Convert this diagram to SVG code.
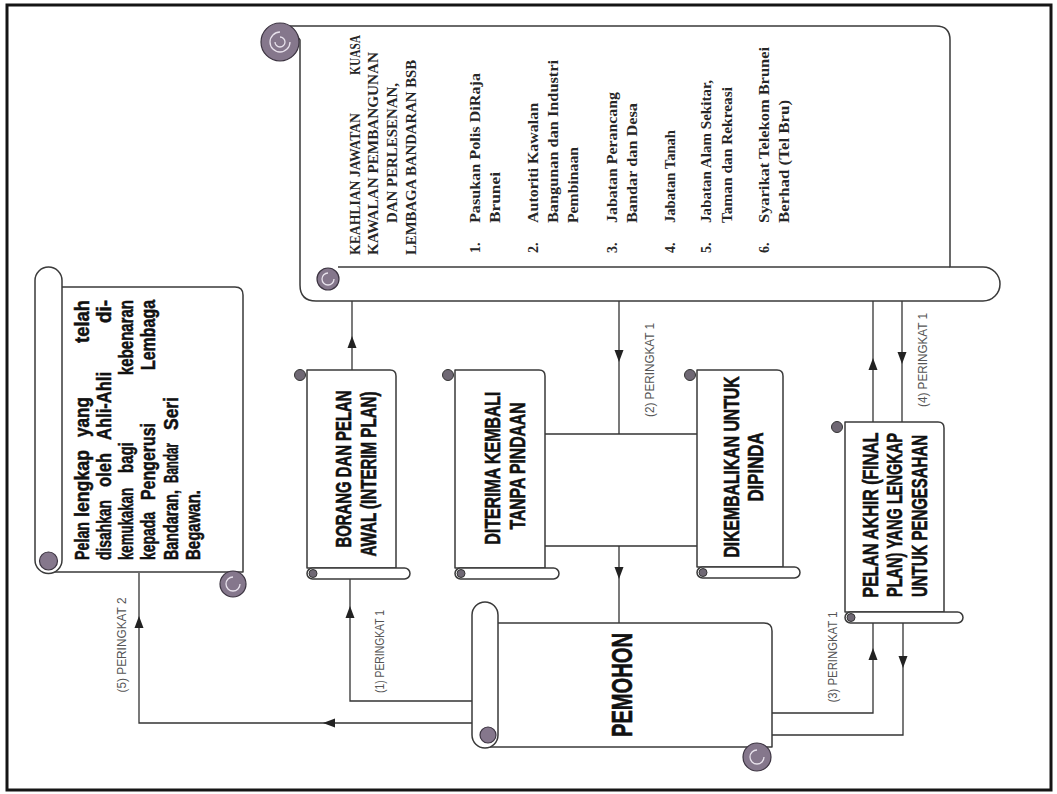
<svg xmlns="http://www.w3.org/2000/svg" width="1057" height="794" viewBox="0 0 1057 794">
<defs>
<style>
.frame{fill:none;stroke:#151515;stroke-width:3}
.sh{fill:#fff;stroke:#3a3a3a;stroke-width:1.5;stroke-linejoin:round}
.ol{fill:none;stroke:#3a3a3a;stroke-width:1.5}
.curl{fill:#85778c;stroke:#3d3542;stroke-width:1.2}
.sc{fill:#6f6874;stroke:#333;stroke-width:1}
.hl{fill:none;stroke:#e8e2ec;stroke-width:1.3}
.cn{fill:none;stroke:#333;stroke-width:1.3}
.ah{fill:#222}
.nt{font-family:"Liberation Sans Narrow","Liberation Sans",Arial,sans-serif;font-weight:bold;font-size:22px;fill:#111;stroke:#111;stroke-width:0.6}
.big{font-size:30px}
.pt{font-family:"Liberation Sans Narrow","Liberation Sans",Arial,sans-serif;font-weight:bold;font-size:20px;fill:#111;stroke:#111;stroke-width:0.5}
.sf{font-family:"Liberation Serif","Times New Roman",serif;font-weight:bold;font-size:14px;fill:#262626}
.lb{font-family:"Liberation Sans Narrow","Liberation Sans",Arial,sans-serif;font-size:13px;fill:#555}
</style>
<path id="ah" d="M0,0 L-12,-4.5 L-12,4.5 Z"/>
</defs>
<rect x="0" y="0" width="1057" height="794" fill="#fff"/>
<rect class="frame" x="7" y="5" width="1044" height="785"/>

<g id="connectors">
<path class="cn" d="M352,370 V301"/>
<use href="#ah" class="ah" transform="translate(352,336) rotate(-90)"/>
<path class="cn" d="M619,301 V434 M545,434 H697 M545,546 H697 M619,546 V623"/>
<use href="#ah" class="ah" transform="translate(619,362) rotate(90)"/>
<use href="#ah" class="ah" transform="translate(619,579) rotate(90)"/>
<path class="cn" d="M873,422 V301"/>
<use href="#ah" class="ah" transform="translate(873,358) rotate(-90)"/>
<path class="cn" d="M902,301 V422"/>
<use href="#ah" class="ah" transform="translate(902,364) rotate(90)"/>
<path class="cn" d="M772,713 H873 V623"/>
<use href="#ah" class="ah" transform="translate(873,648) rotate(-90)"/>
<path class="cn" d="M903,623 V735 H772"/>
<use href="#ah" class="ah" transform="translate(903,668) rotate(90)"/>
<path class="cn" d="M473,701 H350 V579"/>
<use href="#ah" class="ah" transform="translate(350,606) rotate(-90)"/>
<path class="cn" d="M473,723 H139 V573"/>
<use href="#ah" class="ah" transform="translate(139,616) rotate(-90)"/>
<use href="#ah" class="ah" transform="translate(323,723) rotate(180)"/>
<text class="lb" transform="translate(384,651.5) rotate(-90)" text-anchor="middle" textLength="83" lengthAdjust="spacingAndGlyphs">(1) PERINGKAT 1</text>
<text class="lb" transform="translate(654,370) rotate(-90)" text-anchor="middle" textLength="94" lengthAdjust="spacingAndGlyphs">(2) PERINGKAT 1</text>
<text class="lb" transform="translate(837,657) rotate(-90)" text-anchor="middle" textLength="91" lengthAdjust="spacingAndGlyphs">(3) PERINGKAT 1</text>
<text class="lb" transform="translate(927,360) rotate(-90)" text-anchor="middle" textLength="94" lengthAdjust="spacingAndGlyphs">(4) PERINGKAT 1</text>
<text class="lb" transform="translate(126,645) rotate(-90)" text-anchor="middle" textLength="95" lengthAdjust="spacingAndGlyphs">(5) PERINGKAT 2</text>
</g>

<g id="node-keahlian">
<path class="sh" d="M290,26 H936 Q950,26 950,40 V267 H983 A17,17 0 0 1 983,301 H316 Q300,301 300,285 V40 Z"/>
<path class="ol" d="M338,267 H950"/>
<circle class="curl" cx="328" cy="279" r="11"/>
<path class="hl" d="M328,273 a6,6 0 1 0 6,6"/>
<circle class="curl" cx="280" cy="42" r="19"/>
<path class="hl" d="M280,32 a10,10 0 1 0 10,10 M280,37 a5,5 0 1 1 -5,5"/>
<text class="sf" transform="translate(360,255) rotate(-90)" textLength="142" lengthAdjust="spacingAndGlyphs">KEAHLIAN JAWATAN</text>
<text class="sf" transform="translate(360,75) rotate(-90)" textLength="40" lengthAdjust="spacingAndGlyphs">KUASA</text>
<text class="sf" transform="translate(378,255) rotate(-90)" textLength="203" lengthAdjust="spacingAndGlyphs">KAWALAN PEMBANGUNAN</text>
<text class="sf" transform="translate(397,153) rotate(-90)" text-anchor="middle" textLength="140" lengthAdjust="spacingAndGlyphs">DAN PERLESENAN,</text>
<text class="sf" transform="translate(416,255) rotate(-90)" textLength="195" lengthAdjust="spacingAndGlyphs">LEMBAGA BANDARAN BSB</text>
<text class="sf" transform="translate(480,253) rotate(-90)">1.</text>
<text class="sf" transform="translate(480,223) rotate(-90)" textLength="150" lengthAdjust="spacingAndGlyphs">Pasukan Polis DiRaja</text>
<text class="sf" transform="translate(500,223) rotate(-90)" textLength="51" lengthAdjust="spacingAndGlyphs">Brunei</text>
<text class="sf" transform="translate(538,253) rotate(-90)">2.</text>
<text class="sf" transform="translate(538,223) rotate(-90)" textLength="120" lengthAdjust="spacingAndGlyphs">Autoriti Kawalan</text>
<text class="sf" transform="translate(558,223) rotate(-90)" textLength="163" lengthAdjust="spacingAndGlyphs">Bangunan dan Industri</text>
<text class="sf" transform="translate(578,223) rotate(-90)" textLength="76" lengthAdjust="spacingAndGlyphs">Pembinaan</text>
<text class="sf" transform="translate(617,253) rotate(-90)">3.</text>
<text class="sf" transform="translate(617,223) rotate(-90)" textLength="131" lengthAdjust="spacingAndGlyphs">Jabatan Perancang</text>
<text class="sf" transform="translate(637,223) rotate(-90)" textLength="120" lengthAdjust="spacingAndGlyphs">Bandar dan Desa</text>
<text class="sf" transform="translate(675,253) rotate(-90)">4.</text>
<text class="sf" transform="translate(675,223) rotate(-90)" textLength="93" lengthAdjust="spacingAndGlyphs">Jabatan Tanah</text>
<text class="sf" transform="translate(711,253) rotate(-90)">5.</text>
<text class="sf" transform="translate(711,223) rotate(-90)" textLength="143" lengthAdjust="spacingAndGlyphs">Jabatan Alam Sekitar,</text>
<text class="sf" transform="translate(732,223) rotate(-90)" textLength="136" lengthAdjust="spacingAndGlyphs">Taman dan Rekreasi</text>
<text class="sf" transform="translate(769,253) rotate(-90)">6.</text>
<text class="sf" transform="translate(769,223) rotate(-90)" textLength="176" lengthAdjust="spacingAndGlyphs">Syarikat Telekom Brunei</text>
<text class="sf" transform="translate(789,223) rotate(-90)" textLength="123" lengthAdjust="spacingAndGlyphs">Berhad (Tel Bru)</text>
</g>

<g id="node-pelan-lengkap">
<path class="sh" d="M55,287 H235 Q243,287 243,295 V572 H48 Z"/>
<path class="sh" d="M35,560 V280.5 A13.5,13.5 0 0 1 62,280.5 V560 A13.5,13.5 0 0 1 35,560 Z"/>
<circle class="curl" cx="48.5" cy="561" r="9"/>
<circle class="curl" cx="233" cy="584" r="13"/>
<path class="hl" d="M233,577 a7,7 0 1 0 7,7"/>
<g class="pt">
<text transform="translate(89,560) rotate(-90)" textLength="38" lengthAdjust="spacingAndGlyphs">Pelan</text>
<text transform="translate(89,517) rotate(-90)" textLength="67" lengthAdjust="spacingAndGlyphs">lengkap</text>
<text transform="translate(89,437) rotate(-90)" textLength="40" lengthAdjust="spacingAndGlyphs">yang</text>
<text transform="translate(89,343) rotate(-90)" textLength="43" lengthAdjust="spacingAndGlyphs">telah</text>
<text transform="translate(111,560) rotate(-90)" textLength="60" lengthAdjust="spacingAndGlyphs">disahkan</text>
<text transform="translate(111,487) rotate(-90)" textLength="34" lengthAdjust="spacingAndGlyphs">oleh</text>
<text transform="translate(111,440) rotate(-90)" textLength="68" lengthAdjust="spacingAndGlyphs">Ahli-Ahli</text>
<text transform="translate(111,323) rotate(-90)" textLength="23" lengthAdjust="spacingAndGlyphs">di-</text>
<text transform="translate(133,560) rotate(-90)" textLength="72" lengthAdjust="spacingAndGlyphs">kemukakan</text>
<text transform="translate(133,473) rotate(-90)" textLength="31" lengthAdjust="spacingAndGlyphs">bagi</text>
<text transform="translate(133,375) rotate(-90)" textLength="75" lengthAdjust="spacingAndGlyphs">kebenaran</text>
<text transform="translate(155,560) rotate(-90)" textLength="48" lengthAdjust="spacingAndGlyphs">kepada</text>
<text transform="translate(155,500) rotate(-90)" textLength="77" lengthAdjust="spacingAndGlyphs">Pengerusi</text>
<text transform="translate(155,370) rotate(-90)" textLength="70" lengthAdjust="spacingAndGlyphs">Lembaga</text>
<text transform="translate(178,560) rotate(-90)" textLength="70" lengthAdjust="spacingAndGlyphs">Bandaran,</text>
<text transform="translate(178,483) rotate(-90)" textLength="40" lengthAdjust="spacingAndGlyphs">Bandar</text>
<text transform="translate(178,430) rotate(-90)" textLength="33" lengthAdjust="spacingAndGlyphs">Seri</text>
<text transform="translate(200,560) rotate(-90)" textLength="70" lengthAdjust="spacingAndGlyphs">Begawan.</text>
</g>
</g>

<g id="node-borang">
<path class="sh" d="M307,370 H390 Q396,370 396,376 V568 H307 Z"/>
<circle class="sc" cx="300" cy="375" r="5.5"/>
<path class="sh" d="M312.5,568 H404.5 A5.5,5.5 0 0 1 404.5,579 H312.5 A5.5,5.5 0 0 1 312.5,568 Z"/>
<circle class="sc" cx="313" cy="573.5" r="4"/>
<text class="nt" transform="translate(351,469) rotate(-90)" text-anchor="middle" textLength="157" lengthAdjust="spacingAndGlyphs">BORANG DAN PELAN</text>
<text class="nt" transform="translate(376,474) rotate(-90)" text-anchor="middle" textLength="165" lengthAdjust="spacingAndGlyphs">AWAL (INTERIM PLAN)</text>
</g>

<g id="node-diterima">
<path class="sh" d="M455,370 H539 Q545,370 545,376 V568 H455 Z"/>
<circle class="sc" cx="448" cy="375" r="5.5"/>
<path class="sh" d="M460.5,568 H553.5 A5.5,5.5 0 0 1 553.5,579 H460.5 A5.5,5.5 0 0 1 460.5,568 Z"/>
<circle class="sc" cx="461" cy="573.5" r="4"/>
<text class="nt" transform="translate(500,468) rotate(-90)" text-anchor="middle" textLength="153" lengthAdjust="spacingAndGlyphs">DITERIMA KEMBALI</text>
<text class="nt" transform="translate(525,466) rotate(-90)" text-anchor="middle" textLength="127" lengthAdjust="spacingAndGlyphs">TANPA PINDAAN</text>
</g>

<g id="node-dikembalikan">
<path class="sh" d="M697,370 H777 Q783,370 783,376 V567 H697 Z"/>
<circle class="sc" cx="690" cy="375" r="5.5"/>
<path class="sh" d="M702.5,567 H794.5 A5.5,5.5 0 0 1 794.5,578 H702.5 A5.5,5.5 0 0 1 702.5,567 Z"/>
<circle class="sc" cx="703" cy="572.5" r="4"/>
<text class="nt" transform="translate(739,467) rotate(-90)" text-anchor="middle" textLength="181" lengthAdjust="spacingAndGlyphs">DIKEMBALIKAN UNTUK</text>
<text class="nt" transform="translate(763,467) rotate(-90)" text-anchor="middle" textLength="69" lengthAdjust="spacingAndGlyphs">DIPINDA</text>
</g>

<g id="node-pelan-akhir">
<path class="sh" d="M845,422 H938 Q944,422 944,428 V612 H845 Z"/>
<circle class="sc" cx="837" cy="427" r="5.5"/>
<path class="sh" d="M850.5,612 H957.5 A5.5,5.5 0 0 1 957.5,623 H850.5 A5.5,5.5 0 0 1 850.5,612 Z"/>
<circle class="sc" cx="851" cy="617.5" r="4"/>
<text class="nt" transform="translate(878,515) rotate(-90)" text-anchor="middle" textLength="165" lengthAdjust="spacingAndGlyphs">PELAN AKHIR (FINAL</text>
<text class="nt" transform="translate(902,515) rotate(-90)" text-anchor="middle" textLength="164" lengthAdjust="spacingAndGlyphs">PLAN) YANG LENGKAP</text>
<text class="nt" transform="translate(927,516) rotate(-90)" text-anchor="middle" textLength="162" lengthAdjust="spacingAndGlyphs">UNTUK PENGESAHAN</text>
</g>

<g id="node-pemohon">
<path class="sh" d="M485,623 H764 Q772,623 772,631 V747 H485 Z"/>
<path class="sh" d="M472,735 V615 A13,13 0 0 1 498,615 V735 A13,13 0 0 1 472,735 Z"/>
<circle class="curl" cx="488" cy="735" r="8"/>
<circle class="curl" cx="757" cy="757" r="14"/>
<path class="hl" d="M757,750 a7,7 0 1 0 7,7"/>
<text class="nt big" transform="translate(632,685) rotate(-90)" text-anchor="middle" textLength="104" lengthAdjust="spacingAndGlyphs">PEMOHON</text>
</g>
</svg>
